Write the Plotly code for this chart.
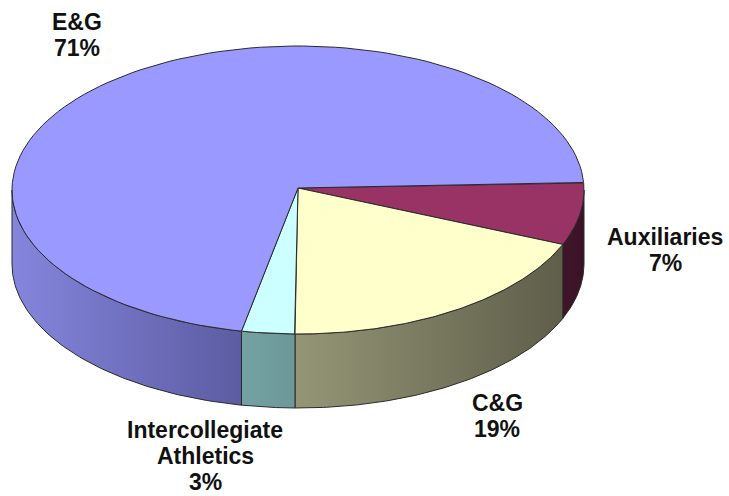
import numpy as np
import plotly.graph_objects as go

# Data (clockwise from the right-hand edge)
labels = ["Auxiliaries", "C&G", "Intercollegiate<br>Athletics", "E&G"]
values = [7, 19, 3, 71]
top_colors = ["#993366", "#FFFFCC", "#CCFFFF", "#9999FF"]
side_left = ["#40152A", "#959576", "#74A2A2", "#8585DD"]
side_right = ["#3A1226", "#5E5E4A", "#6C9898", "#5C5CA2"]
label_pos = [(665, 250), (497, 416), (205, 456), (77, 35)]

# Geometry (pixel space)
W, H = 729, 496
cx, cy, a, b, depth = 298, 190, 286, 144, 74
start_deg = -3.0
line_gap = 26

def rim(t1, t2, n=120):
    t = np.radians(np.linspace(t1, t2, n))
    return cx + a * np.cos(t), cy + b * np.sin(t)

fig = go.Figure()
total = sum(values)
angles = [start_deg]
for v in values:
    angles.append(angles[-1] + 360 * v / total)

# side faces (front half: 0..180 deg)
for i in range(len(values)):
    t1, t2 = max(angles[i], 0), min(angles[i + 1], 180)
    if t2 <= t1:
        continue
    x, y = rim(t1, t2)
    xs = np.concatenate([x, x[::-1], [x[0]]])
    ys = np.concatenate([y, (y + depth)[::-1], [y[0]]])
    fig.add_trace(go.Scatter(
        x=xs, y=ys, mode="lines", fill="toself",
        line=dict(color="#2a2a2a", width=1),
        fillgradient=dict(type="horizontal",
                          colorscale=[[0, side_left[i]], [1, side_right[i]]]),
        hoverinfo="skip", showlegend=False))

# top faces
for i in range(len(values)):
    x, y = rim(angles[i], angles[i + 1])
    xs = np.concatenate([[cx], x, [cx]])
    ys = np.concatenate([[cy - 2], y, [cy - 2]])
    fig.add_trace(go.Scatter(
        x=xs, y=ys, mode="lines", fill="toself", fillcolor=top_colors[i],
        line=dict(color="#2a2a2a", width=1),
        name=labels[i].replace("<br>", " "),
        text=f"{labels[i].replace('<br>', ' ')}: {values[i]}%",
        hoverinfo="text", showlegend=False))

for i, (lx, ly) in enumerate(label_pos):
    lines = labels[i].split("<br>") + [f"{values[i]}%"]
    n = len(lines)
    for k, txt in enumerate(lines):
        fig.add_annotation(x=lx, y=ly + (k - (n - 1) / 2) * line_gap,
                           text=f"<b>{txt}</b>",
                           showarrow=False, xanchor="center", yanchor="middle",
                           font=dict(family="Liberation Sans, Arial", size=23,
                                     color="#111111"))

fig.update_layout(
    width=W, height=H, margin=dict(l=0, r=0, t=0, b=0),
    paper_bgcolor="white", plot_bgcolor="white",
    xaxis=dict(range=[0, W], visible=False, fixedrange=True),
    yaxis=dict(range=[H, 0], visible=False, fixedrange=True),
)
fig.write_html("out.html", config={"displayModeBar": False},
               post_script="document.body.style.margin='0';document.body.style.overflow='hidden';")
